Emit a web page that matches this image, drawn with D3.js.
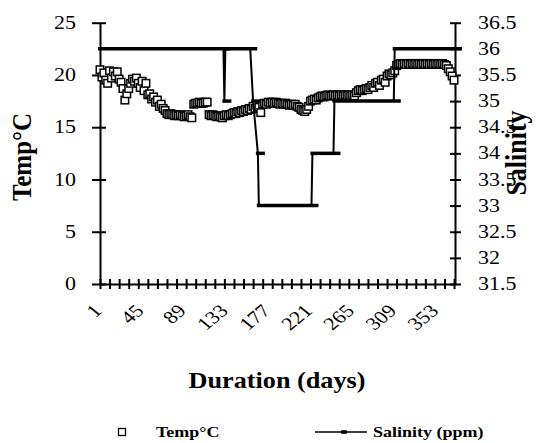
<!DOCTYPE html>
<html>
<head>
<meta charset="utf-8">
<script src="https://cdn.jsdelivr.net/npm/d3@7"></script>
<style>
body { margin: 0; background: #fff; }
</style>
</head>
<body>
<div id="canvas"></div>
<script>
"use strict"

/* values */
let xLabels = [1, 45, 89, 133, 177, 221, 265, 309, 353];
let tempTicks = [0, 5, 10, 15, 20, 25];
let salTicks = [31.5, 32, 32.5, 33, 33.5, 34, 34.5, 35, 35.5, 36, 36.5];

/* temperature, one reading every second day from day 1 */
let tempValues = [
    20.5, 19.8, 20.2, 19.5, 19.2, 20.4, 19.7, 20.3, 19.9, 20.3, 19.6, 19.3,
    18.7, 17.6, 18.2, 18.7, 19.2, 19.6, 19.4, 19.7, 19.2, 18.8, 19.4, 18.5,
    19.2, 18.1, 18.2, 17.7, 17.9, 17.4, 17.6, 17.0, 17.2, 16.8, 16.6, 16.3,
    16.2, 16.3, 16.2, 16.1, 16.2, 16.1, 16.2, 16.1, 16.0, 16.1, 16.2, 16.0,
    15.9, 17.2, 17.3, 17.3, 17.4, 17.3, 17.3, 17.4, 17.4, 16.2, 16.1, 16.2,
    16.1, 16.0, 16.1, 16.0, 15.9, 16.1, 16.2, 16.1, 16.2, 16.3, 16.4, 16.3,
    16.5, 16.4, 16.6, 16.5, 16.7, 16.6, 16.8, 16.7, 17.0, 16.8, 17.1, 16.9,
    16.4, 17.2, 17.3, 17.2, 17.4, 17.3, 17.4, 17.3, 17.4, 17.3, 17.2, 17.3,
    17.2, 17.3, 17.2, 17.1, 17.2, 17.1, 17.2, 17.0, 16.9, 16.7, 16.6, 16.5,
    16.7, 17.0, 17.5, 17.6, 17.7, 17.6, 17.8, 17.9, 18.0, 17.9, 18.0, 18.1,
    18.0, 18.0, 18.1, 18.0, 18.1, 18.0, 18.1, 18.0, 18.1, 18.0, 18.1, 18.0,
    18.1, 18.0, 18.3, 18.5, 18.6, 18.5, 18.6, 18.7, 18.6, 18.8, 19.0, 18.8,
    19.2, 19.3, 19.0, 19.5, 19.6, 19.3, 19.9, 20.1, 20.0, 20.2, 20.4, 20.9,
    21.0, 21.1, 21.0, 21.1, 21.0, 21.1, 21.0, 21.1, 21.0, 21.1, 21.0, 21.1,
    21.0, 21.1, 21.0, 21.1, 21.0, 21.1, 21.0, 21.1, 21.0, 21.1, 21.0, 21.1,
    21.0, 20.9, 20.6, 20.3, 19.9, 19.5
];
let tempDays = tempValues.map((v, i) => 1 + 2 * i);

/* salinity, the days where it changes */
let salDays =   [1,  130, 131, 132, 158, 161, 166, 167, 222, 223, 245, 246, 308, 309, 372];
let salValues = [36, 36,  35,  36,  36,  35,  34,  33,  33,  34,  34,  35,  35,  36,  36];

let serif = "'Liberation Serif', 'Times New Roman', 'DejaVu Serif', serif";

/* drawing canvas */
let drawing = d3.select("#canvas")
    .append("svg")
    .attr("width", 540)
    .attr("height", 443);

drawing.append("rect")
    .attr("width", 540)
    .attr("height", 443)
    .attr("fill", "white");

/* scales */
let x = d3.scaleLinear().domain([1, 372]).range([100, 455]);
let yTemp = d3.scaleLinear().domain([0, 25]).range([284, 22.7]);
let ySal = d3.scaleLinear().domain([31.5, 36.5]).range([284, 22.7]);

/* left axis, ticks cross the line */
let leftAxis = drawing.append("g")
    .attr("transform", "translate(100,0)")
    .call(d3.axisLeft(yTemp).tickValues(tempTicks).tickSizeOuter(0).tickFormat(""));
leftAxis.selectAll(".tick line").attr("x1", -8).attr("x2", 6);

let leftLabels = drawing.selectAll(".tempLabel")
    .data(tempTicks)
    .enter().append("text")
    .attr("class", "tempLabel")
    .attr("transform", d => "translate(76," + yTemp(d) + ") scale(1.22,1)")
    .attr("dy", "0.34em")
    .attr("text-anchor", "end")
    .attr("font-size", 18)
    .text(d => d);

/* right axis */
let rightAxis = drawing.append("g")
    .attr("transform", "translate(455,0)")
    .call(d3.axisRight(ySal).tickValues(salTicks).tickSizeOuter(0).tickFormat(""));
rightAxis.selectAll(".tick line").attr("x1", -5).attr("x2", 6);

let rightLabels = drawing.selectAll(".salLabel")
    .data(salTicks)
    .enter().append("text")
    .attr("class", "salLabel")
    .attr("transform", d => "translate(478," + ySal(d) + ") scale(1.22,1)")
    .attr("dy", "0.34em")
    .attr("font-size", 18)
    .text(d => d);

/* bottom axis, a tick every 10 days */
let bottomAxis = drawing.append("g")
    .attr("transform", "translate(0,284)")
    .call(d3.axisBottom(x).tickValues(d3.range(1, 372, 10)).tickSizeOuter(0).tickFormat(""));
bottomAxis.selectAll(".tick line").attr("y1", -5).attr("y2", 5);

let bottomLabels = drawing.selectAll(".dayLabel")
    .data(xLabels)
    .enter().append("text")
    .attr("class", "dayLabel")
    .attr("transform", d => "translate(" + (x(d) + 3) + ",312) scale(1.22,1) rotate(-45)")
    .attr("text-anchor", "end")
    .attr("font-size", 18)
    .text(d => d);

drawing.selectAll(".domain, .tick line")
    .attr("stroke", "black")
    .attr("stroke-width", 2);

/* temperature squares */
let tempPoints = drawing.append("g").selectAll("rect")
    .data(tempValues)
    .enter().append("rect")
    .attr("x", (d, i) => x(tempDays[i]) - 3.75)
    .attr("y", d => yTemp(d) - 3.75)
    .attr("width", 7.5)
    .attr("height", 7.5)
    .attr("fill", "white")
    .attr("stroke", "black")
    .attr("stroke-width", 1.5);

/* salinity line */
let salLine = d3.line()
    .x((d, i) => x(salDays[i]))
    .y(d => ySal(d));

drawing.append("path")
    .attr("d", salLine(salValues))
    .attr("fill", "none")
    .attr("stroke", "black")
    .attr("stroke-width", 2);

/* runs of the same salinity look like a thick bar of dash markers */
let runs = [];
salValues.forEach((v, i) => {
    let last = runs[runs.length - 1];
    if (last && last.value === v) last.end = salDays[i];
    else runs.push({ value: v, start: salDays[i], end: salDays[i] });
});

drawing.selectAll(".salRun")
    .data(runs)
    .enter().append("line")
    .attr("class", "salRun")
    .attr("x1", d => x(d.start) - 2)
    .attr("x2", d => x(d.end) + 7)
    .attr("y1", d => ySal(d.value))
    .attr("y2", d => ySal(d.value))
    .attr("stroke", "black")
    .attr("stroke-width", 3.5);

/* axis titles */
drawing.append("text")
    .attr("transform", "translate(31,157) scale(1.12,1) rotate(-90)")
    .attr("text-anchor", "middle")
    .attr("font-size", 25)
    .attr("font-weight", "bold")
    .text("Temp°C");

drawing.append("text")
    .attr("transform", "translate(526,153) scale(1.12,1) rotate(-90)")
    .attr("text-anchor", "middle")
    .attr("font-size", 26)
    .attr("font-weight", "bold")
    .text("Salinity");

drawing.append("text")
    .attr("transform", "translate(277,388) scale(1.14,1)")
    .attr("text-anchor", "middle")
    .attr("font-size", 23)
    .attr("font-weight", "bold")
    .text("Duration (days)");

/* legend */
drawing.append("rect")
    .attr("x", 118.5)
    .attr("y", 428.5)
    .attr("width", 7)
    .attr("height", 7)
    .attr("fill", "white")
    .attr("stroke", "black")
    .attr("stroke-width", 1.3);

drawing.append("text")
    .attr("transform", "translate(156,437) scale(1.2,1)")
    .attr("font-size", 15)
    .attr("font-weight", "bold")
    .text("Temp°C");

drawing.append("line")
    .attr("x1", 315).attr("x2", 367)
    .attr("y1", 432).attr("y2", 432)
    .attr("stroke", "black")
    .attr("stroke-width", 1.5);

drawing.append("line")
    .attr("x1", 341).attr("x2", 347)
    .attr("y1", 432).attr("y2", 432)
    .attr("stroke", "black")
    .attr("stroke-width", 3.5);

drawing.append("text")
    .attr("transform", "translate(373,437) scale(1.2,1)")
    .attr("font-size", 15)
    .attr("font-weight", "bold")
    .text("Salinity (ppm)");

/* every text in serif */
drawing.selectAll("text")
    .attr("font-family", serif)
    .attr("fill", "black");
</script>
</body>
</html>
